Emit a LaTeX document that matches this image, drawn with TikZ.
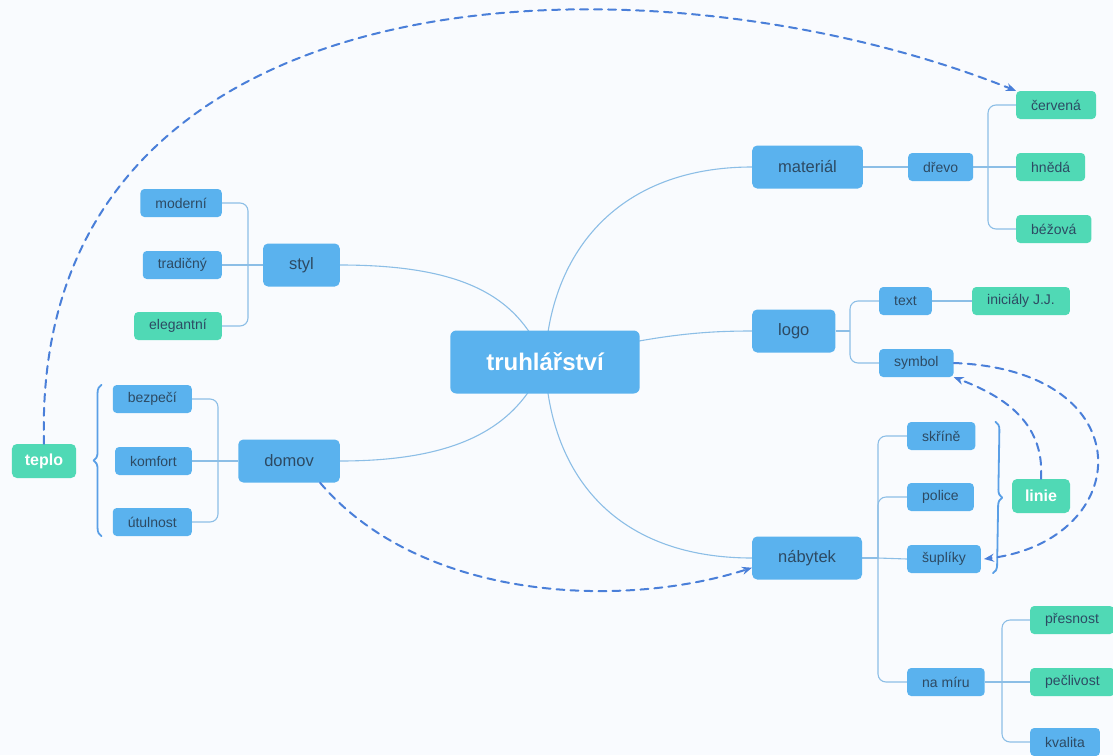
\documentclass[tikz,border=0pt]{standalone}
\usepackage{fontspec}
\setmainfont{Liberation Sans}
\usetikzlibrary{arrows.meta,decorations.pathreplacing}
\pgfdeclarelayer{bg}
\pgfsetlayers{bg,main}
\definecolor{pozadi}{HTML}{F9FBFE}
\definecolor{modra}{HTML}{5AB2EE}
\definecolor{zelena}{HTML}{50D9B5}
\definecolor{pismo}{HTML}{2D4A63}
\definecolor{vetev}{HTML}{8CBEE6}
\definecolor{carka}{HTML}{4A7FD9}
\definecolor{zavorka}{HTML}{5A9FE6}
\begin{document}
\begin{tikzpicture}[x=1pt,y=-1pt,>={Stealth[length=10pt,width=8pt]}, line join=round, line cap=round,
	hub/.style={rounded corners=6, fill=modra, text=white, font=\fontsize{24}{28}\selectfont\bfseries, minimum height=63, inner xsep=36},
	topic/.style={rounded corners=5, fill=modra, text=pismo, font=\fontsize{16.5}{19}\selectfont, minimum height=43, inner xsep=26},
	leaf/.style={rounded corners=4, fill=modra, text=pismo, font=\fontsize{14}{16}\selectfont, minimum height=28, inner xsep=15},
	leafg/.style={leaf, fill=zelena},
	tag/.style={rounded corners=5, fill=zelena, text=white, font=\fontsize{16}{18}\selectfont\bfseries, minimum height=34, inner xsep=13},
	branch/.style={draw=vetev, line width=1.1pt, rounded corners=8},
	link/.style={draw=carka, line width=2pt, dash pattern=on 8pt off 6pt, ->},
	curly/.style={draw=zavorka, line width=1.8pt, decorate, decoration={brace,amplitude=8pt}}]
	\useasboundingbox (0,0) rectangle (1113,755);
	% uzly
	\node[hub] (c) at (545,362) {truhlářství};
	\node[topic,anchor=west] (mat) at (752,167) {materiál};
	\node[topic,anchor=west] (logo) at (752,331) {logo};
	\node[topic,anchor=west] (nab) at (752,558) {nábytek};
	\node[topic,anchor=east] (styl) at (340,265) {styl};
	\node[topic,anchor=east] (dom) at (340,461) {domov};
	\node[leaf,anchor=west] (drev) at (908,167) {dřevo};
	\node[leafg,anchor=west] (cerv) at (1016,105) {červená};
	\node[leafg,anchor=west] (hned) at (1016,167) {hnědá};
	\node[leafg,anchor=west] (bezo) at (1016,229) {béžová};
	\node[leaf,anchor=west] (txt) at (879,301) {text};
	\node[leafg,anchor=west] (inic) at (972,301) {iniciály J.J.};
	\node[leaf,anchor=west] (sym) at (879,363) {symbol};
	\node[leaf,anchor=west] (skr) at (907,436) {skříně};
	\node[leaf,anchor=west] (pol) at (907,497) {police};
	\node[leaf,anchor=west] (sup) at (907,559) {šuplíky};
	\node[leaf,anchor=west] (mir) at (907,682) {na míru};
	\node[leafg,anchor=west] (pres) at (1030,620) {přesnost};
	\node[leafg,anchor=west] (pecl) at (1030,682) {pečlivost};
	\node[leaf,anchor=west] (kval) at (1030,742) {kvalita};
	\node[leaf,anchor=east] (mod) at (222,203) {moderní};
	\node[leaf,anchor=east] (trad) at (222,265) {tradičný};
	\node[leafg,anchor=east] (eleg) at (222,326) {elegantní};
	\node[leaf,anchor=east] (bezp) at (192,399) {bezpečí};
	\node[leaf,anchor=east] (komf) at (192,461) {komfort};
	\node[leaf,anchor=east] (utul) at (192,522) {útulnost};
	\node[tag] (teplo) at (44,461) {teplo};
	\node[tag] (linie) at (1041,496) {linie};
	% rozvetveni
	\coordinate (jd) at (988,167);
	\coordinate (jl) at (850,331);
	\coordinate (jn) at (878,558);
	\coordinate (jm) at (1002,682);
	\coordinate (js) at (248,265);
	\coordinate (jo) at (218,461);
	\begin{pgfonlayer}{bg}
		\fill[pozadi] (0,0) rectangle (1113,755);
		\draw[branch] (c.center) .. controls (550,250) and (620,167) .. (mat.west);
		\draw[branch] (c.center) .. controls (650,335) and (700,331) .. (logo.west);
		\draw[branch] (c.center) .. controls (550,480) and (620,558) .. (nab.west);
		\draw[branch] (styl.east) .. controls (470,265) and (520,300) .. (c.center);
		\draw[branch] (dom.east) .. controls (470,461) and (520,420) .. (c.center);
		\draw[branch] (mat.east) -- (drev.west);
		\draw[branch] (drev.east) -- (jd);
		\draw[branch] (jd) |- (cerv.west);
		\draw[branch] (jd) |- (bezo.west);
		\draw[branch] (jd) -- (hned.west);
		\draw[branch] (logo.east) -- (jl);
		\draw[branch] (jl) |- (txt.west);
		\draw[branch] (jl) |- (sym.west);
		\draw[branch] (txt.east) -- (inic.west);
		\draw[branch] (nab.east) -- (jn);
		\draw[branch] (jn) |- (skr.west);
		\draw[branch] (jn) |- (pol.west);
		\draw[branch] (jn) -- (sup.west);
		\draw[branch] (jn) |- (mir.west);
		\draw[branch] (mir.east) -- (jm);
		\draw[branch] (jm) |- (pres.west);
		\draw[branch] (jm) -- (pecl.west);
		\draw[branch] (jm) |- (kval.west);
		\draw[branch] (styl.west) -- (js);
		\draw[branch] (js) |- (mod.east);
		\draw[branch] (js) -- (trad.east);
		\draw[branch] (js) |- (eleg.east);
		\draw[branch] (dom.west) -- (jo);
		\draw[branch] (jo) |- (bezp.east);
		\draw[branch] (jo) -- (komf.east);
		\draw[branch] (jo) |- (utul.east);
	\end{pgfonlayer}
	% zavorky
	\draw[curly] ([xshift=-11pt]utul.south west) -- ([xshift=-11pt]utul.west |- bezp.north);
	\draw[curly] ([xshift=20pt]skr.north east) -- ([xshift=12pt]sup.south east);
	% vztahy
	\draw[link] (teplo.north) .. controls (30,-40) and (650,-55) .. (cerv.north west);
	\draw[link] (dom.-35) .. controls (420,600) and (620,610) .. (nab.-170);
	\draw[link] (linie.north) .. controls (1045,420) and (1000,395) .. (sym.south east);
	\draw[link] (sym.east) .. controls (1145,370) and (1135,540) .. ([xshift=3pt]sup.east);
\end{tikzpicture}
\end{document}
